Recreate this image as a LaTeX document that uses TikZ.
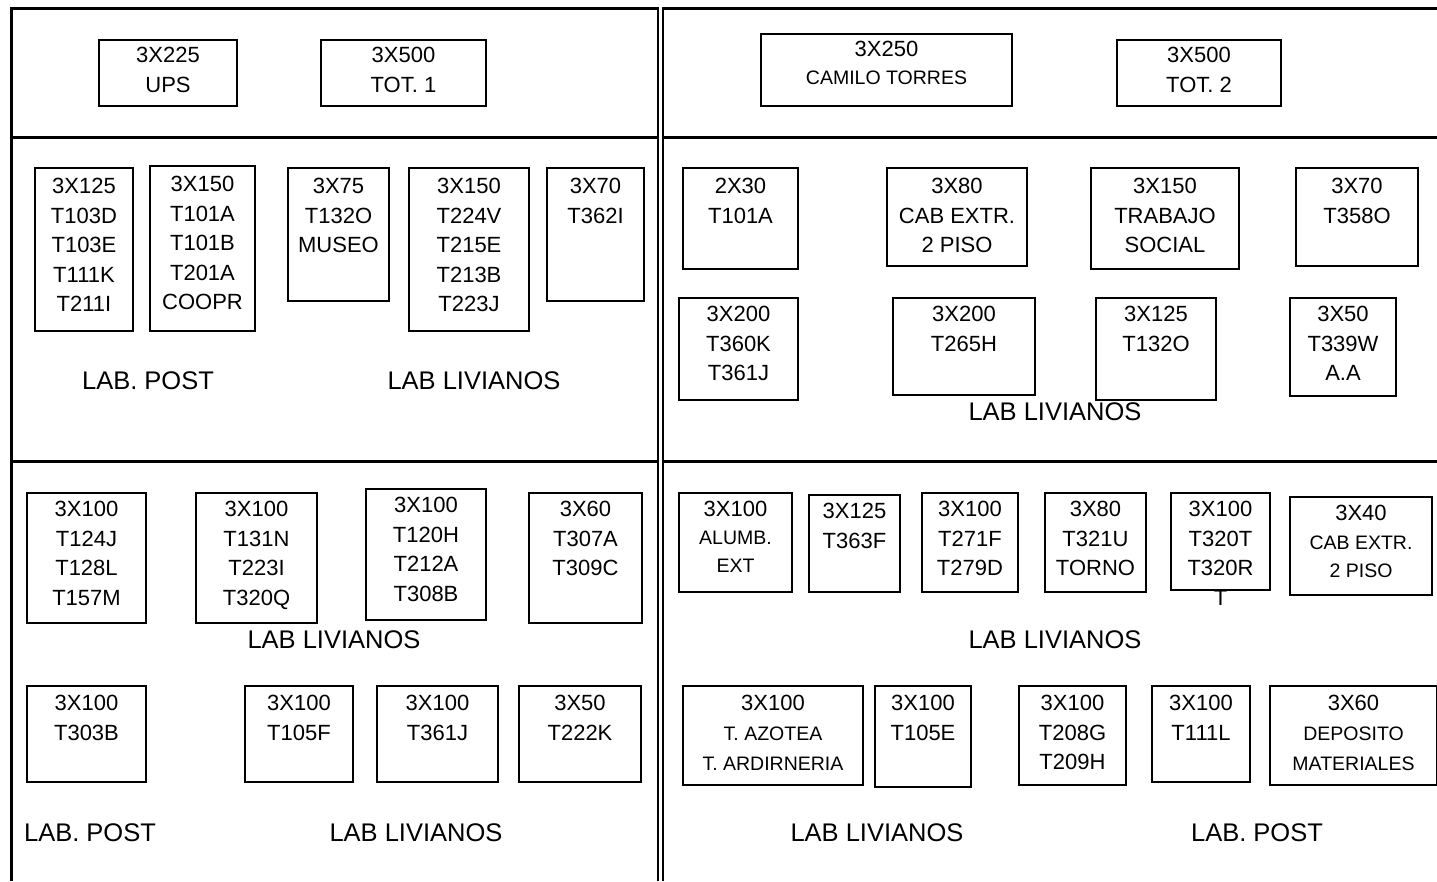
\documentclass[tikz,border=0pt]{standalone}
\usepackage{fontspec}
\setmainfont{Liberation Sans}
\newcommand\sm{\fontsize{19.5}{29.5}\selectfont}
\newcommand\bx[7]{%
  \node[bxs, minimum width={(#4-#2)*1pt}, minimum height={(#5-#3)*1pt}, anchor=north west] (#1) at (#2,#3) {};
  \node[bt, anchor=north] (#1t) at ({(#2+#4)/2},{#6-8}) {#7};
}
\tikzset{
  frame/.style={line width=3pt},
  midline/.style={line width=2.2pt},
  bxs/.style={draw, line width=1.3pt, inner sep=0pt, outer sep=0pt},
  bt/.style={inner sep=0pt, align=center, font=\fontsize{22}{29.5}\selectfont},
  lbl/.style={inner sep=0pt, font=\fontsize{25.5}{28}\selectfont},
}
\begin{document}
\begin{tikzpicture}[x=1pt,y=-1pt]
\useasboundingbox (0,0) rectangle (1437,881);
% frames
\draw[frame] (11,881) -- (11,8.5) -- (658,8.5);
\draw[midline] (658,7) -- (658,881);
\draw[midline] (663,7) -- (663,881);
\draw[frame] (663,8.5) -- (1437,8.5);
\draw[frame] (11,137.5) -- (657,137.5);
\draw[frame] (11,461.5) -- (657,461.5);
\draw[frame] (664,137.5) -- (1437,137.5);
\draw[frame] (664,461.5) -- (1437,461.5);
% top left
\bx{ups}{99}{40}{237}{106}{55}{3X225\\UPS}
\bx{tot1}{321}{40}{486}{106}{55}{3X500\\TOT. 1}
% top right
\bx{cam}{761}{34}{1012}{106}{49}{3X250\\[-1.5pt]{\sm CAMILO TORRES}}
\bx{tot2}{1117}{40}{1281}{106}{55}{3X500\\TOT. 2}
% middle left
\bx{ma}{35}{168}{133}{331}{186}{3X125\\T103D\\T103E\\T111K\\T211I}
\bx{mb}{150}{166}{255}{331}{184}{3X150\\T101A\\T101B\\T201A\\COOPR}
\bx{mc}{288}{168}{389}{301}{186}{3X75\\T132O\\MUSEO}
\bx{md}{409}{168}{529}{331}{186}{3X150\\T224V\\T215E\\T213B\\T223J}
\bx{me}{547}{168}{644}{301}{186}{3X70\\T362I}
\node[lbl] (l1) at (148,381) {LAB. POST};
\node[lbl] (l2) at (474,381) {LAB LIVIANOS};
% middle right
\bx{ra}{683}{168}{798}{269}{186}{2X30\\T101A}
\bx{rb}{887}{168}{1027}{266}{186}{3X80\\CAB EXTR.\\2 PISO}
\bx{rc}{1091}{168}{1239}{269}{186}{3X150\\TRABAJO\\SOCIAL}
\bx{rd}{1296}{168}{1418}{266}{186}{3X70\\T358O}
\bx{re}{679}{298}{798}{400}{314}{3X200\\T360K\\T361J}
\bx{rf}{893}{298}{1035}{395}{314}{3X200\\T265H}
\bx{rg}{1096}{298}{1216}{400}{314}{3X125\\T132O}
\bx{rh}{1290}{298}{1396}{396}{314}{3X50\\T339W\\A.A}
\node[lbl] (l3) at (1055,412) {LAB LIVIANOS};
% bottom left
\bx{ba}{27}{493}{146}{623}{509}{3X100\\T124J\\T128L\\T157M}
\bx{bb}{196}{493}{317}{623}{509}{3X100\\T131N\\T223I\\T320Q}
\bx{bc}{366}{489}{486}{620}{505}{3X100\\T120H\\T212A\\T308B}
\bx{bd}{529}{493}{642}{623}{509}{3X60\\T307A\\T309C}
\node[lbl] (l4) at (334,640) {LAB LIVIANOS};
\bx{be}{27}{686}{146}{782}{703}{3X100\\T303B}
\bx{bf}{245}{686}{353}{782}{703}{3X100\\T105F}
\bx{bg}{377}{686}{498}{782}{703}{3X100\\T361J}
\bx{bh}{519}{686}{641}{782}{703}{3X50\\T222K}
\node[lbl] (l5) at (90,833) {LAB. POST};
\node[lbl] (l6) at (416,833) {LAB LIVIANOS};
% bottom right
\bx{ca}{679}{493}{792}{592}{509}{3X100\\[-1.5pt]{\sm ALUMB.}\\[-1.5pt]{\sm EXT}}
\bx{cb}{809}{495}{900}{592}{511}{3X125\\T363F}
\bx{cc}{922}{493}{1018}{592}{509}{3X100\\T271F\\T279D}
\bx{cd}{1045}{493}{1146}{592}{509}{3X80\\T321U\\TORNO}
\bx{ce}{1171}{493}{1270}{590}{509}{3X100\\T320T\\T320R\\T}
\bx{cf}{1290}{497}{1432}{595}{513}{3X40\\[-1pt]{\sm CAB EXTR.}\\[-1pt]{\sm 2 PISO}}
\node[lbl] (l7) at (1055,640) {LAB LIVIANOS};
\bx{cg}{683}{686}{863}{785}{703}{3X100\\[0pt]{\sm T. AZOTEA}\\[1pt]{\sm T. ARDIRNERIA}}
\bx{ch}{875}{686}{971}{787}{703}{3X100\\T105E}
\bx{ci}{1019}{686}{1126}{785}{703}{3X100\\T208G\\T209H}
\bx{cj}{1152}{686}{1250}{782}{703}{3X100\\T111L}
\bx{ck}{1270}{686}{1437}{785}{703}{3X60\\[0pt]{\sm DEPOSITO}\\[1pt]{\sm MATERIALES}}
\node[lbl] (l8) at (877,833) {LAB LIVIANOS};
\node[lbl] (l9) at (1257,833) {LAB. POST};
\end{tikzpicture}
\end{document}
